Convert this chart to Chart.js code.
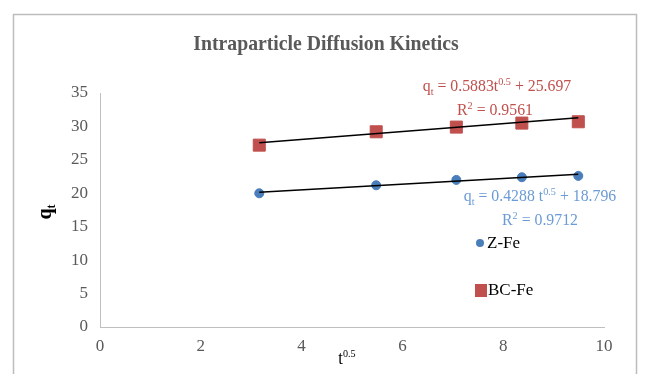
<!DOCTYPE html>
<html>
<head>
<meta charset="utf-8">
<script src="https://cdn.jsdelivr.net/npm/chart.js@4"></script>
<style>
  html, body { margin: 0; padding: 0; background: #fff; }
  #wrap { width: 646px; height: 374px; position: relative; }
</style>
</head>
<body>
<div id="wrap"><canvas id="chart" width="646" height="374"></canvas></div>
<script>
// t^0.5 values
const tHalf = [3.16, 5.48, 7.07, 8.37, 9.49];
// qt values
const zFe = [20.0, 21.2, 22.0, 22.4, 22.6];
const bcFe = [27.2, 29.2, 29.9, 30.5, 30.7];
// linear trend lines (end points, from the fitted equations)
const trendX = [3.16, 9.49];
const zFeTrend = [20.15, 22.86];
const bcFeTrend = [27.56, 31.28];
const xTicks = [0, 2, 4, 6, 8, 10];
const yTicks = [0, 5, 10, 15, 20, 25, 30, 35];

const serif = '"Liberation Serif", "Times New Roman", serif';
const red = '#c0504d';
const blue = '#4a7ebb';
const lightBlue = '#6b9bd6';

function pts(xs, ys) {
    return xs.map((x, i) => ({ x: x, y: ys[i] }));
}

// draw text made of runs: [text, 'n'|'sub'|'sup'], centred on cx, squeezed by sx
function richWidth(ctx, runs, size, bold) {
    let w = 0;
    for (const [s, k] of runs) {
        ctx.font = (bold ? 'bold ' : '') + (k === 'n' ? size : Math.round(size * 0.62)) + 'px ' + serif;
        w += ctx.measureText(s).width;
    }
    return w;
}
function drawRich(ctx, runs, cx, y, size, color, bold, sx) {
    sx = sx || 1;
    const w = richWidth(ctx, runs, size, bold);
    ctx.save();
    ctx.translate(cx - w * sx / 2, y);
    ctx.scale(sx, 1);
    let x = 0;
    ctx.fillStyle = color;
    ctx.textBaseline = 'alphabetic';
    ctx.textAlign = 'left';
    for (const [s, k] of runs) {
        const fs = k === 'n' ? size : Math.round(size * 0.62);
        ctx.font = (bold ? 'bold ' : '') + fs + 'px ' + serif;
        let dy = 0;
        if (k === 'sub') dy = size * 0.22;
        if (k === 'sup') dy = -size * 0.38;
        ctx.fillText(s, x, dy);
        x += ctx.measureText(s).width;
    }
    ctx.restore();
}

const decor = {
    id: 'decor',
    beforeDraw(chart) {
        const ctx = chart.ctx;
        ctx.save();
        ctx.fillStyle = '#fff';
        ctx.fillRect(0, 0, chart.width, chart.height);
        ctx.strokeStyle = '#bdbdbd';
        ctx.lineWidth = 1.5;
        ctx.strokeRect(13.5, 14.5, 623, 380);
        ctx.restore();
    },
    afterDraw(chart) {
        const ctx = chart.ctx;
        ctx.save();
        // title
        drawRich(ctx, [['Intraparticle Diffusion Kinetics', 'n']], 326, 50, 21, '#595959', true, 0.94);

        // axis titles
        drawRich(ctx, [['t', 'n'], ['0.5', 'sup']], 347, 364, 18, '#000', false, 0.92);
        ctx.save();
        ctx.translate(51, 212);
        ctx.rotate(-Math.PI / 2);
        drawRich(ctx, [['q', 'n'], ['t', 'sub']], 0, 0, 20, '#000', true);
        ctx.restore();

        // trend equations
        drawRich(ctx, [['q', 'n'], ['t', 'sub'], [' = 0.5883t', 'n'], ['0.5', 'sup'], [' + 25.697', 'n']], 497, 91, 17, red, false, 0.93);
        drawRich(ctx, [['R', 'n'], ['2', 'sup'], [' = 0.9561', 'n']], 495, 115, 17, red, false, 0.93);
        drawRich(ctx, [['q', 'n'], ['t', 'sub'], [' = 0.4288 t', 'n'], ['0.5', 'sup'], [' + 18.796', 'n']], 540, 201, 17, lightBlue, false, 0.93);
        drawRich(ctx, [['R', 'n'], ['2', 'sup'], [' = 0.9712', 'n']], 540, 225, 17, lightBlue, false, 0.93);

        // legend
        ctx.fillStyle = blue;
        ctx.beginPath();
        ctx.arc(480, 243, 4, 0, Math.PI * 2);
        ctx.fill();
        ctx.fillStyle = red;
        ctx.fillRect(475, 284, 12, 13);
        ctx.font = '17px ' + serif;
        ctx.textAlign = 'left';
        ctx.textBaseline = 'middle';
        ctx.fillStyle = '#000';
        ctx.fillText(chart.data.datasets[0].label, 487, 244);
        ctx.fillText(chart.data.datasets[1].label, 488, 291);
        ctx.restore();
    }
};

new Chart(document.getElementById('chart'), {
    type: 'scatter',
    data: {
        datasets: [
            {
                label: 'Z-Fe',
                data: pts(tHalf, zFe),
                backgroundColor: blue,
                borderColor: blue,
                pointStyle: 'circle',
                pointRadius: 4.5,
                order: 1
            },
            {
                label: 'BC-Fe',
                data: pts(tHalf, bcFe),
                backgroundColor: red,
                borderColor: red,
                pointStyle: 'rect',
                pointRadius: 8.5,
                order: 1
            },
            {
                label: 'Z-Fe trend',
                type: 'line',
                data: pts(trendX, zFeTrend),
                borderColor: '#000',
                borderWidth: 1.5,
                pointRadius: 0,
                order: 0
            },
            {
                label: 'BC-Fe trend',
                type: 'line',
                data: pts(trendX, bcFeTrend),
                borderColor: '#000',
                borderWidth: 1.5,
                pointRadius: 0,
                order: 0
            }
        ]
    },
    options: {
        responsive: false,
        animation: false,
        layout: { padding: { left: 0, right: 42, top: 93, bottom: 0 } },
        plugins: {
            legend: { display: false },
            tooltip: { enabled: false }
        },
        scales: {
            x: {
                type: 'linear',
                min: 0,
                max: 10,
                afterBuildTicks: s => { s.ticks = xTicks.map(v => ({ value: v })); },
                afterFit: s => { s.height = 47; },
                grid: { display: false, drawTicks: false },
                border: { color: '#bfbfbf', width: 1 },
                ticks: { color: '#595959', font: { family: serif, size: 17 }, padding: 9 }
            },
            y: {
                min: 0,
                max: 35,
                afterBuildTicks: s => { s.ticks = yTicks.map(v => ({ value: v })); },
                afterFit: s => { s.width = 100; },
                grid: { display: false, drawTicks: false },
                border: { color: '#bfbfbf', width: 1 },
                ticks: { color: '#595959', font: { family: serif, size: 17 }, padding: 12 }
            }
        }
    },
    plugins: [decor]
});
</script>
</body>
</html>
